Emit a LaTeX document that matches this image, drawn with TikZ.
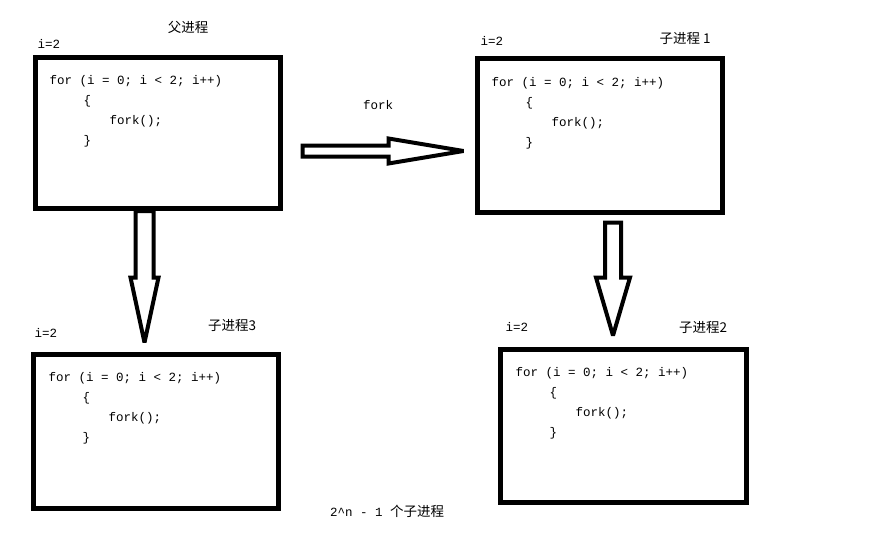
\documentclass[tikz,border=0pt]{standalone}
\usepackage{fontspec}
\usepackage{tikz}
\usetikzlibrary{positioning,calc}
\newfontfamily\codefont{Liberation Mono}
\newfontfamily\cjk{Noto Sans CJK SC}

% loop body printed in every process box
\newcommand{\forcode}{for (i = 0; i < 2; i++)\\\hspace*{34pt}\{\\\hspace*{60pt}fork();\\\hspace*{34pt}\}}

% hollow block arrows: start, tip, shaft half width, head half width, head length
\newcommand{\rightblock}[5]{%
  \draw[blockarrow] let \p1=(#1), \p2=(#2) in
    (\x1,\y1+#3pt) -- (\x2-#5pt,\y1+#3pt) -- (\x2-#5pt,\y1+#4pt) -- (\x2,\y2)
    -- (\x2-#5pt,\y1-#4pt) -- (\x2-#5pt,\y1-#3pt) -- (\x1,\y1-#3pt) -- cycle;}
\newcommand{\downblock}[5]{%
  \draw[blockarrow] let \p1=(#1), \p2=(#2) in
    (\x1-#3pt,\y1) -- (\x1-#3pt,\y2+#5pt) -- (\x1-#4pt,\y2+#5pt) -- (\x2,\y2)
    -- (\x1+#4pt,\y2+#5pt) -- (\x1+#3pt,\y2+#5pt) -- (\x1+#3pt,\y1) -- cycle;}

\begin{document}
\begin{tikzpicture}[
    x=1pt, y=-1pt,
    procbox/.style={rectangle, draw=black, line width=5pt, inner sep=0pt},
    codetext/.style={inner sep=0pt, align=left, font=\codefont\fontsize{12.5}{20}\selectfont},
    varlabel/.style={inner sep=0pt, font=\codefont\fontsize{12.5}{14}\selectfont},
    title/.style={inner sep=0pt, font=\cjk\fontsize{13.5}{15}\selectfont},
    blockarrow/.style={draw=black, line width=4pt, fill=white, miter limit=2}
]
\useasboundingbox (0,0) rectangle (880,538);

% Process boxes
\node[procbox, minimum width=245pt, minimum height=151pt] (parent) at (158,133) {};
\node[procbox, minimum width=245pt, minimum height=154pt] (child1) at (600,135.5) {};
\node[procbox, minimum width=245pt, minimum height=154pt] (child3) at (156,431.5) {};
\node[procbox, minimum width=246pt, minimum height=153pt] (child2) at (623.5,426) {};

% Code inside the boxes
\node[codetext, below right=20.5pt and 16.5pt of parent.north west] (parentcode) {\forcode};
\node[codetext, below right=21.5pt and 16.5pt of child1.north west] (child1code) {\forcode};
\node[codetext, below right=20.5pt and 17.5pt of child3.north west] (child3code) {\forcode};
\node[codetext, below right=20.5pt and 17.5pt of child2.north west] (child2code) {\forcode};

% Variable values
\node[varlabel, above right=6pt and 4.5pt of parent.north west] (parentvar) {i=2};
\node[varlabel, above right=10pt and 5.5pt of child1.north west] (child1var) {i=2};
\node[varlabel, above right=14pt and 3.5pt of child3.north west] (child3var) {i=2};
\node[varlabel, above right=15pt and 7.5pt of child2.north west] (child2var) {i=2};

% Process titles
\node[title] (parenttitle) at (188,27) {父进程};
\node[title] (child1title) at (685,38) {子进程 1};
\node[title] (child3title) at (232,325) {子进程3};
\node[title] (child2title) at (703,327) {子进程2};

% Arrow ends
\coordinate (forkstart) at ($(parent.east)+(19.5,18)$);
\coordinate (forktip) at ($(child1.west)+(-11.5,15.5)$);
\coordinate (tip3) at ($(child3.north)+(-11.5,-9.5)$);
\coordinate (start2) at ($(child1.south)+(13,7.5)$);
\coordinate (tip2) at ($(child2.north)+(-10.5,-11.5)$);

% Block arrows
\rightblock{forkstart}{forktip}{5.5}{12.5}{75}
\downblock{parent.south -| tip3}{tip3}{9}{14}{65}
\downblock{start2}{tip2}{8}{17}{58}

% Arrow label and summary
\node[varlabel] (forklabel) at (378,105) {fork};
\node[inner sep=0pt, font=\fontsize{12.5}{14}\selectfont] (summary) at (387,511) {{\codefont 2\textasciicircum n - 1 }{\cjk\fontsize{13.5}{15}\selectfont 个子进程}};

\end{tikzpicture}
\end{document}
